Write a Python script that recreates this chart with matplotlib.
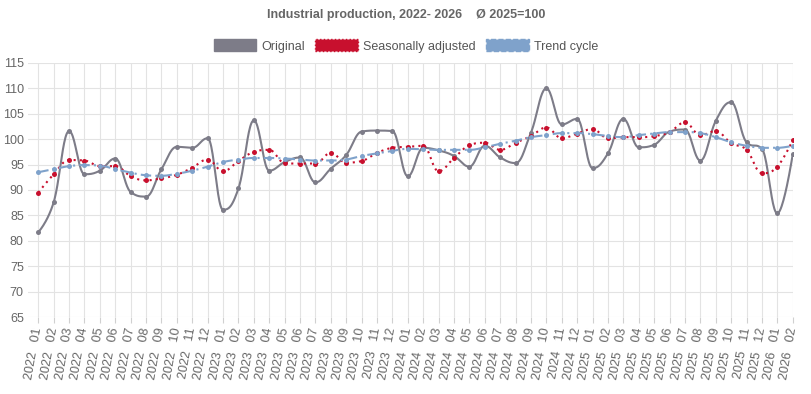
import matplotlib
matplotlib.use("Agg")
import matplotlib.pyplot as plt
from matplotlib.patches import Patch
import numpy as np

plt.rcParams['font.family'] = ['Liberation Sans', 'DejaVu Sans']

years = [2022] * 12 + [2023] * 12 + [2024] * 12 + [2025] * 12 + [2026] * 2
months = list(range(1, 13)) * 4 + [1, 2]
labels = [f"{y}   {m:02d}" for y, m in zip(years, months)]

original = [81.7, 87.6, 101.6, 93.1, 93.8, 96.2, 89.6, 88.7, 94.1, 98.5, 98.3, 100.2,
            86.1, 90.3, 103.7, 93.8, 95.5, 96.4, 91.5, 94.2, 96.9, 101.5, 101.7, 101.6,
            92.7, 98.3, 97.8, 96.7, 94.6, 98.7, 96.4, 95.3, 101.3, 110.0, 102.9, 104.0,
            94.3, 97.2, 104.0, 98.4, 98.9, 101.5, 101.9, 95.8, 103.6, 107.3, 99.4, 98.1,
            85.4, 97.0]
seasonal = [89.5, 93.1, 95.9, 95.8, 94.7, 94.7, 92.7, 91.9, 92.3, 93.0, 94.4, 96.0,
            93.7, 95.7, 97.5, 97.9, 95.3, 95.2, 95.2, 97.3, 95.4, 95.7, 97.3, 98.3,
            98.5, 98.7, 93.7, 96.3, 98.8, 99.3, 97.9, 99.3, 100.6, 102.3, 100.2, 101.1,
            102.0, 100.2, 100.4, 100.4, 100.6, 101.4, 103.3, 100.8, 101.6, 99.2, 97.9, 93.3,
            94.6, 99.8]
trend = [93.5, 94.1, 94.7, 94.9, 94.8, 94.1, 93.4, 92.9, 92.8, 93.2, 93.8, 94.6,
         95.5, 96.0, 96.3, 96.3, 96.2, 96.0, 95.8, 95.8, 96.0, 96.7, 97.2, 97.7,
         98.1, 98.0, 97.9, 97.9, 97.9, 98.4, 99.1, 99.7, 100.4, 100.8, 101.2, 101.2,
         101.0, 100.6, 100.4, 100.8, 101.1, 101.4, 101.4, 101.2, 100.4, 99.4, 98.7, 98.3,
         98.3, 98.7]

series_names = ["Original", "Seasonally adjusted", "Trend cycle"]
colors = ["#7d7c88", "#c8102e", "#7fa2cb"]


def spline_curve(xs, ys, smoothing=1.5, steps=24):
    n = len(xs)
    lc = [None] * n
    rc = [None] * n
    d = smoothing + 1
    for i in range(1, n - 1):
        px, py = xs[i], ys[i]
        lx, ly = xs[i - 1], ys[i - 1]
        nx, ny = xs[i + 1], ys[i + 1]
        lcx = (smoothing * px + lx) / d
        lcy = (smoothing * py + ly) / d
        rcx = (smoothing * px + nx) / d
        rcy = (smoothing * py + ny) / d
        if rcx != lcx:
            corr = ((rcy - lcy) * (rcx - px)) / (rcx - lcx) + py - rcy
            lcy += corr
            rcy += corr
        if lcy > ly and lcy > py:
            lcy = max(ly, py); rcy = 2 * py - lcy
        elif lcy < ly and lcy < py:
            lcy = min(ly, py); rcy = 2 * py - lcy
        if rcy > ny and rcy > py:
            rcy = max(ny, py); lcy = 2 * py - rcy
        elif rcy < ny and rcy < py:
            rcy = min(ny, py); lcy = 2 * py - rcy
        lc[i] = (lcx, lcy)
        rc[i] = (rcx, rcy)
    t = np.linspace(0, 1, steps)
    X, Y = [xs[0]], [ys[0]]
    for i in range(1, n):
        p0 = (xs[i - 1], ys[i - 1])
        p3 = (xs[i], ys[i])
        p1 = rc[i - 1] if rc[i - 1] is not None else p0
        p2 = lc[i] if lc[i] is not None else p3
        bx = (1 - t) ** 3 * p0[0] + 3 * (1 - t) ** 2 * t * p1[0] + 3 * (1 - t) * t ** 2 * p2[0] + t ** 3 * p3[0]
        by = (1 - t) ** 3 * p0[1] + 3 * (1 - t) ** 2 * t * p1[1] + 3 * (1 - t) * t ** 2 * p2[1] + t ** 3 * p3[1]
        X.extend(bx[1:]); Y.extend(by[1:])
    return np.array(X), np.array(Y)


W, H = 812, 394
fig = plt.figure(figsize=(W / 100, H / 100), dpi=100)
x0_px, x1_px = 38.3, 792.7
top_px, bot_px = 63, 317
left_px = 28
per = (x1_px - x0_px) / (len(labels) - 1)
xmin = -(x0_px - left_px) / per
ax = fig.add_axes([left_px / W, 1 - bot_px / H, (x1_px - left_px) / W, (bot_px - top_px) / H])

x = np.arange(len(labels))
styles = [
    dict(lw=1.5, ls='-'),
    dict(lw=1.5, ls=(0, (1, 2))),
    dict(lw=1.5, ls=(0, (5, 2, 1, 2))),
]
for vals, col, st in zip([original, seasonal, trend], colors, styles):
    cx, cy = spline_curve(list(x), list(vals))
    ax.plot(cx, cy, color=col, lw=st['lw'], linestyle=st['ls'], solid_capstyle='round', zorder=3)
    ax.plot(x, vals, 'o', color=col, ms=3.6, mew=0, zorder=4)

ax.set_xlim(xmin, len(labels) - 1)
ax.set_ylim(65, 115)
ax.set_yticks(np.arange(65, 116, 5))
ax.set_xticks(x)
ax.set_xticklabels(labels, rotation=80, ha='right', va='center', rotation_mode='anchor')
ax.grid(True, color='#e3e3e3', lw=0.8)
ax.set_axisbelow(True)
for s in ax.spines.values():
    s.set_visible(False)
ax.tick_params(axis='y', length=0, labelsize=9, labelcolor='#666666', pad=3)
ax.tick_params(axis='x', length=4, color='#d0d0d0', labelsize=9, labelcolor='#666666', pad=4)

fig.text(0.5, 1 - 15 / H, "Industrial production, 2022- 2026    Ø 2025=100",
         ha='center', va='center', fontsize=9, fontweight='bold', color='#666666')

handles = [
    Patch(facecolor=colors[0], edgecolor=colors[0]),
    Patch(facecolor=colors[1], edgecolor=colors[1], linestyle=':'),
    Patch(facecolor=colors[2], edgecolor=colors[2], linestyle='--'),
]
fig.legend(handles, series_names, loc='center', bbox_to_anchor=(0.5, 1 - 46 / H),
           ncol=3, frameon=False, fontsize=9, handlelength=3.4, handleheight=1.1,
           handletextpad=0.45, columnspacing=0.8, labelcolor='#555555')

fig.savefig("out.png", dpi=100)
